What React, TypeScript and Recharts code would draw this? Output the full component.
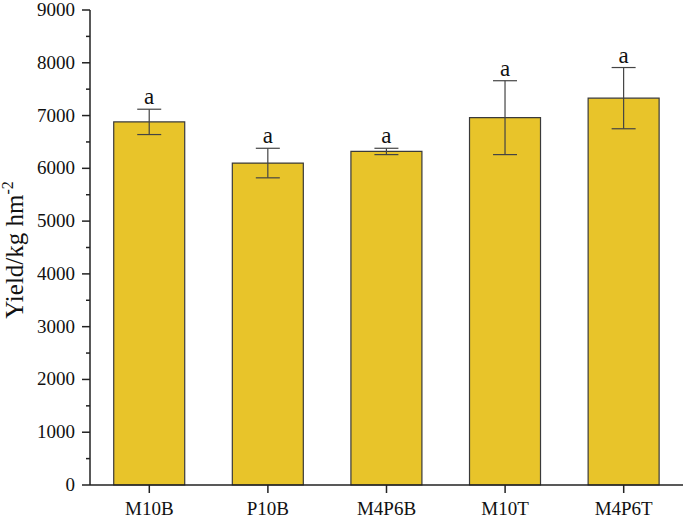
import React from "react";
import { BarChart, Bar, XAxis, YAxis, ErrorBar, LabelList, Label } from "recharts";

const categories: string[] = ["M10B", "P10B", "M4P6B", "M10T", "M4P6T"];
const yieldValues: number[] = [6880, 6100, 6320, 6960, 7330];
const yieldErrors: number[] = [240, 280, 60, 700, 580];
const letters: string[] = ["a", "a", "a", "a", "a"];
const yTicks: number[] = [0, 500, 1000, 1500, 2000, 2500, 3000, 3500, 4000, 4500, 5000, 5500, 6000, 6500, 7000, 7500, 8000, 8500, 9000];

const data = categories.map((name, i) => ({
  name,
  value: yieldValues[i],
  err: yieldErrors[i],
  letter: letters[i]
}));

const FONT = "Liberation Serif";

const YTick = (props: any) => {
  const { x, y, payload } = props;
  const major = payload.value % 1000 === 0;
  return (
    <g>
      <line x1={x} x2={x - (major ? 8 : 4)} y1={y} y2={y} stroke="#222" strokeWidth={1.5} />
      {major && (
        <text x={x - 15} y={y} dy={6} textAnchor="end" style={{ fontFamily: FONT }} fontSize={19} fill="#111">
          {payload.value}
        </text>
      )}
    </g>
  );
};

const LetterLabel = (props: any) => {
  const { x, y, width, height, index } = props;
  const d = data[index];
  const pxPerUnit = height / d.value;
  const top = y - d.err * pxPerUnit;
  return (
    <text x={x + width / 2} y={top - 5} textAnchor="middle" style={{ fontFamily: FONT }} fontSize={23} fill="#111">
      {d.letter}
    </text>
  );
};

const YLabel = () => (
  <text
    x={0}
    y={0}
    transform="translate(23, 250) rotate(-90)"
    textAnchor="middle"
    style={{ fontFamily: FONT }}
    fontSize={25}
    fill="#111"
  >
    Yield/kg hm
    <tspan fontSize={16} dy={-10}>-2</tspan>
  </text>
);

export default function App() {
  return (
    <div style={{ position: "absolute", left: 0, top: 0 }}>
      <BarChart
        width={685}
        height={519}
        data={data}
        barCategoryGap="20%"
        margin={{ top: 10, right: 2, left: 0, bottom: 4 }}
      >
        <XAxis
          dataKey="name"
          height={30}
          tickSize={8}
          tickMargin={9}
          axisLine={{ stroke: "#222", strokeWidth: 1.5 }}
          tickLine={{ stroke: "#222", strokeWidth: 1.5 }}
          tick={{ style: { fontFamily: FONT }, fontSize: 19, fill: "#111" }}
        />
        <YAxis
          width={90}
          domain={[0, 9000]}
          ticks={yTicks}
          interval={0}
          tickSize={0}
          tickMargin={0}
          tickLine={false}
          axisLine={{ stroke: "#222", strokeWidth: 1.5 }}
          tick={<YTick />}
        >
          <Label content={<YLabel />} />
        </YAxis>
        <Bar dataKey="value" fill="#E8C42A" stroke="#3a3a3a" strokeWidth={1.2} isAnimationActive={false}>
          <ErrorBar dataKey="err" width={12} stroke="#444" strokeWidth={1.2} />
          <LabelList dataKey="letter" content={<LetterLabel />} />
        </Bar>
      </BarChart>
    </div>
  );
}
